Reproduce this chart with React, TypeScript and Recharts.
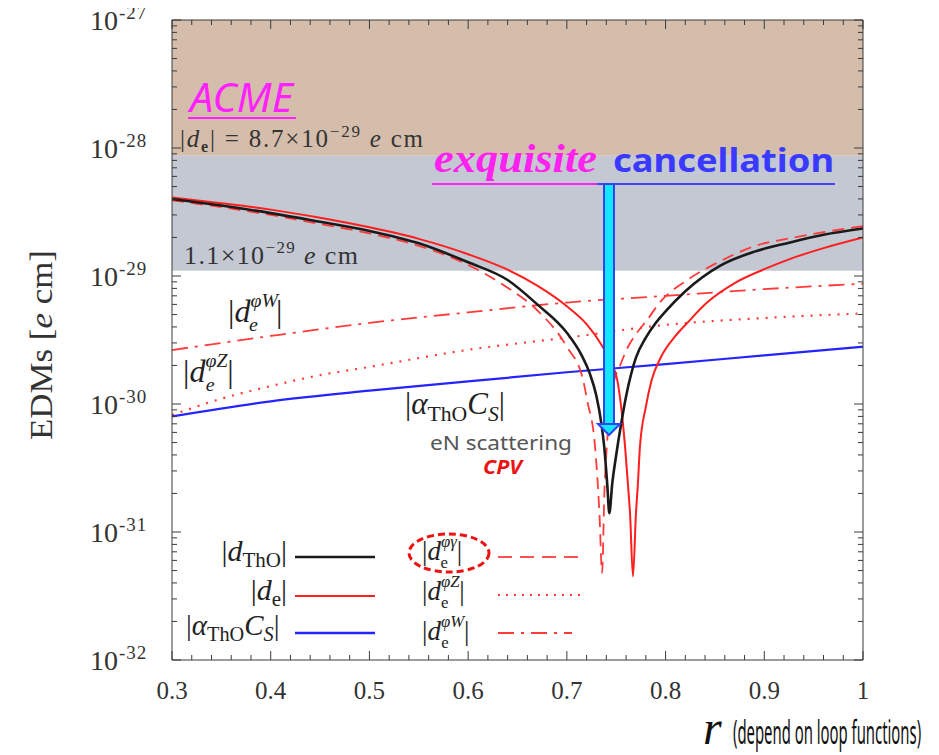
import React from "react";
import { LineChart, Line, XAxis, YAxis, ReferenceArea } from "recharts";

const SERIF = "'Liberation Serif', 'DejaVu Serif', serif";
const HAND = "'Comic Sans MS', 'Noto Sans', 'DejaVu Sans', sans-serif";

// experimental bounds [e cm]
const acmeLimit = 8.7e-29;
const futureLimit = 1.1e-29;
const yMin = 1e-32;
const yMax = 1e-27;

// |d_ThO|
const rTho = [0.3, 0.35, 0.4, 0.45, 0.5, 0.55, 0.6, 0.64, 0.67, 0.7, 0.715, 0.723, 0.73, 0.735, 0.738, 0.741, 0.743, 0.746, 0.75, 0.755, 0.76, 0.765, 0.77, 0.78, 0.79, 0.8, 0.82, 0.855, 0.89, 0.925, 0.96, 1.0];
const dTho = [4.0e-29, 3.55e-29, 3.1e-29, 2.65e-29, 2.25e-29, 1.8e-29, 1.28e-29, 9.3e-30, 6.0e-30, 3.6e-30, 2.4e-30, 1.75e-30, 1.15e-30, 7.0e-31, 4.5e-31, 2.3e-31, 1.4e-31, 2.4e-31, 4.0e-31, 7.0e-31, 1.15e-30, 1.7e-30, 2.3e-30, 3.3e-30, 4.3e-30, 5.3e-30, 7.6e-30, 1.2e-29, 1.55e-29, 1.82e-29, 2.1e-29, 2.35e-29];

// |d_e|
const rDe = [0.3, 0.35, 0.4, 0.45, 0.5, 0.55, 0.6, 0.64, 0.67, 0.7, 0.72, 0.735, 0.745, 0.751, 0.755, 0.759, 0.762, 0.764, 0.767, 0.77, 0.772, 0.774, 0.78, 0.786, 0.795, 0.81, 0.822, 0.842, 0.87, 0.9, 0.925, 0.96, 1.0];
const dDe = [4.1e-29, 3.7e-29, 3.3e-29, 2.85e-29, 2.4e-29, 1.95e-29, 1.48e-29, 1.12e-29, 8.4e-30, 5.8e-30, 4.2e-30, 2.9e-30, 2.1e-30, 1.55e-30, 9.5e-31, 4.6e-31, 2.3e-31, 1.4e-31, 4.5e-32, 1.4e-31, 2.4e-31, 4.6e-31, 9.5e-31, 1.55e-30, 2.3e-30, 3.4e-30, 4.3e-30, 6.2e-30, 8.8e-30, 1.13e-29, 1.35e-29, 1.65e-29, 2.0e-29];

// |d_e^{phi gamma}|
const rGam = [0.3, 0.35, 0.4, 0.45, 0.5, 0.55, 0.6, 0.64, 0.67, 0.7, 0.7164, 0.7205, 0.7286, 0.733, 0.7357, 0.738, 0.741, 0.747, 0.754, 0.762, 0.771, 0.781, 0.794, 0.822, 0.855, 0.889, 0.93, 0.96, 1.0];
const dGam = [3.9e-29, 3.45e-29, 3.0e-29, 2.55e-29, 2.15e-29, 1.72e-29, 1.22e-29, 8.1e-30, 5.4e-30, 2.8e-30, 1.55e-30, 1.07e-30, 4.6e-31, 1.4e-31, 4.8e-32, 2.0e-31, 5.3e-31, 1.4e-30, 2.0e-30, 2.8e-30, 3.6e-30, 4.5e-30, 6.2e-30, 9.3e-30, 1.3e-29, 1.7e-29, 2.0e-29, 2.2e-29, 2.45e-29];

// |d_e^{phi Z}|
const rZ = [0.3, 0.35, 0.4, 0.45, 0.5, 0.6, 0.7, 0.8, 0.9, 1.0];
const dZ = [8.2e-31, 1.1e-30, 1.38e-30, 1.68e-30, 1.95e-30, 2.65e-30, 3.3e-30, 4.15e-30, 4.7e-30, 5.1e-30];

// |d_e^{phi W}|
const rW = [0.3, 0.4, 0.5, 0.6, 0.7, 0.8, 0.9, 1.0];
const dW = [2.64e-30, 3.4e-30, 4.3e-30, 5.2e-30, 6.2e-30, 7.0e-30, 7.9e-30, 8.7e-30];

// |alpha_ThO C_S|
const rCs = [0.3, 0.4, 0.5, 0.6, 0.7, 0.8, 0.9, 1.0];
const dCs = [8.0e-31, 1.05e-30, 1.27e-30, 1.5e-30, 1.77e-30, 2.05e-30, 2.4e-30, 2.8e-30];

const zip = (rs: number[], vs: number[]) => rs.map((r, i) => ({ r, v: vs[i] }));

const yTicks: number[] = [];
for (let k = -32; k <= -27; k++) {
  yTicks.push(Number(`1e${k}`));
  if (k < -27) for (let m = 2; m <= 9; m++) yTicks.push(Number(`${m}e${k}`));
}
const xTicks = Array.from({ length: 36 }, (_, i) => (30 + 2 * i) / 100);

const isDecade = (v: number) => Math.abs(Math.log10(v) - Math.round(Math.log10(v))) < 1e-6;
const isTenth = (v: number) => Math.abs(v * 10 - Math.round(v * 10)) < 1e-6;

const AX = "#3a3a3a";

const LeftTick = (p: any) => {
  const v = p.payload.value;
  const major = isDecade(v);
  return (
    <g>
      <line x1={p.x} x2={p.x + (major ? 9 : 5)} y1={p.y} y2={p.y} stroke={AX} />
      {major && (
        <>
          <text x={p.x - 54} y={p.y + 10} textAnchor="end" fontFamily={SERIF} fontSize={28} fill="#333">10</text>
          <text x={p.x - 53} y={p.y - 1} fontFamily={SERIF} fontSize={19} fill="#333" letterSpacing={1}>
            {`-${-Math.round(Math.log10(v))}`}
          </text>
        </>
      )}
    </g>
  );
};

const RightTick = (p: any) => {
  const major = isDecade(p.payload.value);
  return <line x1={p.x} x2={p.x - (major ? 9 : 5)} y1={p.y} y2={p.y} stroke={AX} />;
};

const BottomTick = (p: any) => {
  const v = p.payload.value;
  const major = isTenth(v);
  return (
    <g>
      <line x1={p.x} x2={p.x} y1={p.y} y2={p.y - (major ? 9 : 5)} stroke={AX} />
      {major && (
        <text x={p.x} y={p.y + 39} textAnchor="middle" fontFamily={SERIF} fontSize={25} fill="#333">
          {v === 1 ? "1" : v.toFixed(1)}
        </text>
      )}
    </g>
  );
};

const TopTick = (p: any) => {
  const major = isTenth(p.payload.value);
  return <line x1={p.x} x2={p.x} y1={p.y} y2={p.y + (major ? 9 : 5)} stroke={AX} />;
};

// |d_e^{sup}|
const DPhi = ({ x, y, s, sup, supW, romanE }: any) => (
  <text x={x} y={y} fontSize={s} fontFamily={SERIF} fill="#222">
    <tspan>|</tspan>
    <tspan fontStyle="italic">d</tspan>
    <tspan fontSize={0.62 * s} fontStyle="italic" dy={-0.47 * s}>{sup}</tspan>
    <tspan fontSize={0.62 * s} fontStyle={romanE ? "normal" : "italic"} dx={-supW * s} dy={0.75 * s}>e</tspan>
    <tspan dx={(supW - 0.28) * s} dy={-0.28 * s}>|</tspan>
  </text>
);

const AlphaCs = ({ x, y, s }: any) => (
  <text x={x} y={y} fontSize={s} fontFamily={SERIF} fill="#222">
    <tspan>|</tspan>
    <tspan fontStyle="italic">α</tspan>
    <tspan fontSize={0.7 * s} dy={0.22 * s}>ThO</tspan>
    <tspan fontStyle="italic" dy={-0.22 * s}>C</tspan>
    <tspan fontSize={0.7 * s} fontStyle="italic" dy={0.22 * s}>S</tspan>
    <tspan dy={-0.22 * s}>|</tspan>
  </text>
);

const Annotations = () => (
  <svg width={939} height={755} style={{ position: "absolute", left: 0, top: 0, pointerEvents: "none" }}>
    {/* ACME bound */}
    <text x={190} y={112} fontFamily={HAND} fontStyle="italic" fontSize={40} fill="#ff22ff" textLength={103} lengthAdjust="spacingAndGlyphs">ACME</text>
    <line x1={188} x2={296} y1={118} y2={118} stroke="#ff22ff" strokeWidth={2} />
    <text x={180} y={147} fontFamily={SERIF} fontSize={25} fill="#333" textLength={243} lengthAdjust="spacing">
      <tspan>|</tspan>
      <tspan fontStyle="italic">d</tspan>
      <tspan fontSize={16} fontWeight="bold" dy={5}>e</tspan>
      <tspan dy={-5}>{"|  =  8.7×10"}</tspan>
      <tspan fontSize={17} dy={-10}>−29</tspan>
      <tspan fontStyle="italic" dy={10}>{" e"}</tspan>
      <tspan>{" cm"}</tspan>
    </text>
    <text x={184} y={264} fontFamily={SERIF} fontSize={26} fill="#333" textLength={174} lengthAdjust="spacing">
      <tspan>1.1×10</tspan>
      <tspan fontSize={17} dy={-11}>−29</tspan>
      <tspan fontStyle="italic" dy={11}>{" e"}</tspan>
      <tspan>{" cm"}</tspan>
    </text>

    {/* exquisite cancellation */}
    <text x={434} y={172} fontFamily={SERIF} fontStyle="italic" fontWeight="bold" fontSize={40} fill="#ff22ee" textLength={163} lengthAdjust="spacingAndGlyphs">exquisite</text>
    <text x={613} y={172} fontFamily={HAND} fontWeight="bold" fontSize={32} fill="#3a3aff" textLength={221} lengthAdjust="spacingAndGlyphs">cancellation</text>
    <line x1={432} x2={597} y1={184} y2={184} stroke="#ff22ff" strokeWidth={2} />
    <line x1={597} x2={835} y1={184} y2={184} stroke="#4444ff" strokeWidth={2} />
    <rect x={604} y={184} width={10} height={240} fill="#11e8ff" stroke="#3344ee" strokeWidth={2} />
    <polygon points="598,424 620,424 609,435" fill="#11e8ff" stroke="#3344ee" strokeWidth={2} />

    {/* curve labels */}
    <DPhi x={228} y={322} s={32} sup="φW" supW={0.85} />
    <DPhi x={183} y={382} s={32} sup="φZ" supW={0.68} />
    <AlphaCs x={405} y={414} s={31} />
    <text x={430} y={450} fontFamily={HAND} fontSize={20} fill="#555" textLength={142} lengthAdjust="spacingAndGlyphs">eN scattering</text>
    <text x={483} y={474} fontFamily={HAND} fontStyle="italic" fontWeight="bold" fontSize={19} fill="#ee1111" textLength={39} lengthAdjust="spacingAndGlyphs">CPV</text>

    {/* legend */}
    <text x={287} y={561} textAnchor="end" fontSize={30} fontFamily={SERIF} fill="#222">
      <tspan>|</tspan>
      <tspan fontStyle="italic">d</tspan>
      <tspan fontSize={21} dy={6}>ThO</tspan>
      <tspan dy={-6}>|</tspan>
    </text>
    <text x={287} y={600} textAnchor="end" fontSize={30} fontFamily={SERIF} fill="#222">
      <tspan>|</tspan>
      <tspan fontStyle="italic">d</tspan>
      <tspan fontSize={21} dy={6}>e</tspan>
      <tspan dy={-6}>|</tspan>
    </text>
    <AlphaCs x={186} y={635} s={29} />
    <line x1={295} x2={375} y1={557} y2={557} stroke="#1a1a1a" strokeWidth={2.5} />
    <line x1={295} x2={375} y1={596} y2={596} stroke="#ff1e1e" strokeWidth={2.2} />
    <line x1={295} x2={375} y1={633} y2={633} stroke="#2424ff" strokeWidth={2.4} />

    <DPhi x={422} y={560} s={27} sup="φγ" supW={0.6} romanE />
    <DPhi x={422} y={600} s={27} sup="φZ" supW={0.68} romanE />
    <DPhi x={422} y={640} s={27} sup="φW" supW={0.85} romanE />
    <ellipse cx={449} cy={553} rx={40} ry={19} fill="none" stroke="#ee1111" strokeWidth={3} strokeDasharray="7 4" />
    <line x1={498} x2={580} y1={557} y2={557} stroke="#ff5050" strokeWidth={1.8} strokeDasharray="14 8" />
    <line x1={498} x2={580} y1={595} y2={595} stroke="#ff3a3a" strokeWidth={2} strokeDasharray="2 6" />
    <line x1={498} x2={572} y1={633} y2={633} stroke="#ff3a3a" strokeWidth={1.8} strokeDasharray="16 7 3 7" />

    {/* axis titles */}
    <text transform="translate(52,345) rotate(-90)" textAnchor="middle" fontFamily={SERIF} fontSize={31} fill="#333" textLength={190} lengthAdjust="spacingAndGlyphs">
      <tspan>EDMs [</tspan>
      <tspan fontStyle="italic">e</tspan>
      <tspan>{" cm]"}</tspan>
    </text>
    <text x={703} y={744} fontFamily={SERIF} fontStyle="italic" fontSize={48} fill="#111">r</text>
    <text transform="translate(733,744) scale(0.45,1)" x={0} y={0} fontFamily={HAND} fontSize={32} fill="#111" textLength={418} lengthAdjust="spacingAndGlyphs">(depend on loop functions)</text>
  </svg>
);

export default function App() {
  return (
    <div style={{ position: "relative", width: 939, height: 755, margin: "-8px 0 0 -8px", background: "#fff" }}>
      <LineChart width={939} height={755} margin={{ top: 19, right: 75, bottom: 94, left: 171 }}>
        <XAxis xAxisId="b" type="number" dataKey="r" domain={[0.3, 1]} ticks={xTicks} interval={0} height={1}
          tickSize={0} tickMargin={0} tick={BottomTick} axisLine={{ stroke: AX }} tickLine={false} allowDataOverflow />
        <XAxis xAxisId="t" orientation="top" type="number" dataKey="r" domain={[0.3, 1]} ticks={xTicks} interval={0} height={1}
          tickSize={0} tickMargin={0} tick={TopTick} axisLine={{ stroke: AX }} tickLine={false} allowDataOverflow />
        <YAxis yAxisId="l" type="number" scale="log" domain={[yMin, yMax]} ticks={yTicks} interval={0} width={1}
          tickSize={0} tickMargin={0} tick={LeftTick} axisLine={{ stroke: AX }} tickLine={false} allowDataOverflow />
        <YAxis yAxisId="r" orientation="right" type="number" scale="log" domain={[yMin, yMax]} ticks={yTicks} interval={0} width={1}
          tickSize={0} tickMargin={0} tick={RightTick} axisLine={{ stroke: AX }} tickLine={false} allowDataOverflow />

        <ReferenceArea xAxisId="b" yAxisId="l" y1={acmeLimit} y2={yMax} fill="#d5bdab" fillOpacity={1} stroke="none" />
        <ReferenceArea xAxisId="b" yAxisId="l" y1={futureLimit} y2={acmeLimit} fill="#c4c8d3" fillOpacity={1} stroke="none" />

        <Line xAxisId="b" yAxisId="l" data={zip(rW, dW)} dataKey="v" type="monotone" stroke="#ff3a3a" strokeWidth={1.8}
          strokeDasharray="16 7 3 7" dot={false} isAnimationActive={false} />
        <Line xAxisId="b" yAxisId="l" data={zip(rZ, dZ)} dataKey="v" type="monotone" stroke="#ff3a3a" strokeWidth={2.2}
          strokeDasharray="2 7" dot={false} isAnimationActive={false} />
        <Line xAxisId="b" yAxisId="l" data={zip(rCs, dCs)} dataKey="v" type="monotone" stroke="#2424ff" strokeWidth={2.2}
          dot={false} isAnimationActive={false} />
        <Line xAxisId="b" yAxisId="l" data={zip(rGam, dGam)} dataKey="v" type="monotone" stroke="#ff3a3a" strokeWidth={1.8}
          strokeDasharray="12 7" dot={false} isAnimationActive={false} />
        <Line xAxisId="b" yAxisId="l" data={zip(rDe, dDe)} dataKey="v" type="monotone" stroke="#ff1e1e" strokeWidth={2}
          dot={false} isAnimationActive={false} />
        <Line xAxisId="b" yAxisId="l" data={zip(rTho, dTho)} dataKey="v" type="monotone" stroke="#1a1a1a" strokeWidth={2.6}
          dot={false} isAnimationActive={false} />
      </LineChart>
      <Annotations />
    </div>
  );
}
